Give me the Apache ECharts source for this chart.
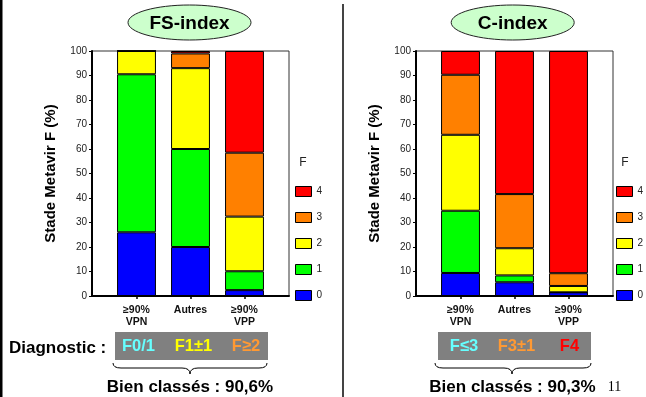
<!DOCTYPE html>
<html>
<head>
<meta charset="utf-8">
<script src="https://cdn.jsdelivr.net/npm/echarts@6/dist/echarts.min.js"></script>
<style>
html,body{margin:0;padding:0;background:#fff;}
#c{width:646px;height:397px;}
</style>
</head>
<body>
<div id="c"></div>
<script>
// ---- data ----
const categories = ['≥90%\nVPN', 'Autres', '≥90%\nVPP'];
const stages = ['0', '1', '2', '3', '4'];
const stageColors = ['#0000ff', '#00ff00', '#ffff00', '#ff8000', '#ff0000'];
const legendOrder = ['4', '3', '2', '1', '0'];

// FS-index (left panel) — % of patients by Metavir F stage
const fsF0 = [26, 20, 2.4];
const fsF1 = [64.5, 40, 7.7];
const fsF2 = [9.5, 33, 22.3];
const fsF3 = [0, 6, 26.1];
const fsF4 = [0, 1, 41.5];

// C-index (right panel)
const cF0 = [9.4, 5.6, 1.5];
const cF1 = [25.4, 2.8, 0];
const cF2 = [31, 11.1, 2.6];
const cF3 = [24.5, 22.1, 5.2];
const cF4 = [9.7, 58.4, 90.7];

const titles = ['FS-index', 'C-index'];
const yTitle = 'Stade Metavir F (%)';
const diagLeft = ['F0/1', 'F1±1', 'F≥2'];
const diagRight = ['F≤3', 'F3±1', 'F4'];
const accuracy = ['Bien classés : 90,6%', 'Bien classés : 90,3%'];

// ---- chart ----
const FONT = 'Liberation Sans, Arial, sans-serif';
const chart = echarts.init(document.getElementById('c'), null, {renderer: 'canvas'});

const TOP = 51, H = 245;
function frameGrid(left) {
  return {left: left, top: TOP, width: 197, height: H, show: true,
    borderColor: '#333', borderWidth: 1, backgroundColor: 'transparent'};
}
function barGrid(left) {
  return {left: left + 17.5, top: TOP, width: 162, height: H, show: false};
}
function frameX(g) {
  return {type: 'value', gridIndex: g, min: 0, max: 1,
    axisLine: {show: true, lineStyle: {color: '#000', width: 2}},
    axisTick: {show: false}, axisLabel: {show: false}, splitLine: {show: false}};
}
function frameY(g) {
  return {type: 'value', gridIndex: g, min: 0, max: 100, interval: 10,
    name: yTitle, nameLocation: 'middle', nameGap: 34,
    nameTextStyle: {fontFamily: FONT, fontSize: 15, fontWeight: 'bold', color: '#000'},
    axisLine: {show: true, lineStyle: {color: '#000', width: 2}},
    axisTick: {show: true, length: 3, lineStyle: {color: '#000'}},
    splitLine: {show: false},
    axisLabel: {fontFamily: FONT, fontSize: 10, color: '#222', margin: 5}};
}
function barX(g) {
  return {type: 'category', gridIndex: g, data: categories,
    axisLine: {show: false},
    axisTick: {show: true, alignWithLabel: true, length: 3, lineStyle: {color: '#000', width: 1.5}},
    axisLabel: {fontFamily: FONT, fontSize: 10.5, fontWeight: 'bold', color: '#111', margin: 8, lineHeight: 12}};
}
function barY(g) {
  return {type: 'value', gridIndex: g, min: 0, max: 100, show: false};
}

const fsData = [fsF0, fsF1, fsF2, fsF3, fsF4];
const cData = [cF0, cF1, cF2, cF3, cF4];
const series = [];
stages.forEach((s, k) => {
  series.push({name: s, type: 'bar', stack: 'L', xAxisIndex: 1, yAxisIndex: 1,
    data: fsData[k], barWidth: '72%',
    itemStyle: {color: stageColors[k], borderColor: '#000', borderWidth: 1}});
});
stages.forEach((s, k) => {
  series.push({name: s, type: 'bar', stack: 'R', xAxisIndex: 3, yAxisIndex: 3,
    data: cData[k], barWidth: '72%',
    itemStyle: {color: stageColors[k], borderColor: '#000', borderWidth: 1}});
});

function legend(left) {
  return {left: left, top: 186, orient: 'vertical', data: legendOrder, padding: 0,
    itemWidth: 16, itemHeight: 10, itemGap: 15, selectedMode: false, icon: 'rect',
    itemStyle: {borderColor: '#000', borderWidth: 1},
    textStyle: {fontFamily: FONT, fontSize: 10, color: '#222', lineHeight: 10}};
}

function txt(x, y, text, size, color, opts) {
  return {type: 'text', x: x, y: y, z: 10, style: Object.assign({text: text,
    fontFamily: FONT, fontSize: size, fontWeight: 'bold', fill: color,
    textAlign: 'center', textVerticalAlign: 'middle'}, opts || {})};
}
function brace(x1, xm, x2) {
  const yt = 363, ym = 368, yb = 374, r = 8;
  const ls = {stroke: '#000', lineWidth: 1, fill: null};
  return [
    {type: 'bezierCurve', shape: {x1: x1, y1: yt, x2: x1 + r, y2: ym, cpx1: x1, cpy1: ym}, style: ls},
    {type: 'line', shape: {x1: x1 + r, y1: ym, x2: xm - r, y2: ym}, style: ls},
    {type: 'bezierCurve', shape: {x1: xm - r, y1: ym, x2: xm, y2: yb, cpx1: xm, cpy1: ym}, style: ls},
    {type: 'bezierCurve', shape: {x1: xm, y1: yb, x2: xm + r, y2: ym, cpx1: xm, cpy1: ym}, style: ls},
    {type: 'line', shape: {x1: xm + r, y1: ym, x2: x2 - r, y2: ym}, style: ls},
    {type: 'bezierCurve', shape: {x1: x2 - r, y1: ym, x2: x2, y2: yt, cpx1: x2, cpy1: ym}, style: ls}
  ];
}

const graphic = [
  {type: 'rect', shape: {x: 0, y: 0, width: 2.5, height: 397}, style: {fill: '#000'}},
  {type: 'rect', shape: {x: 342, y: 4, width: 2, height: 393}, style: {fill: '#444'}},
  {type: 'ellipse', shape: {cx: 189.5, cy: 22.5, rx: 61.5, ry: 17.5}, style: {fill: '#ccffcc', stroke: '#222', lineWidth: 1}},
  {type: 'ellipse', shape: {cx: 512.7, cy: 22.5, rx: 61.5, ry: 17.5}, style: {fill: '#ccffcc', stroke: '#222', lineWidth: 1}},
  txt(189.5, 23.5, titles[0], 19, '#000'),
  txt(512.7, 23.5, titles[1], 19, '#000'),
  txt(303, 163, 'F', 12, '#222', {fontWeight: 'normal'}),
  txt(625, 163, 'F', 12, '#222', {fontWeight: 'normal'}),
  txt(9, 348, 'Diagnostic :', 17, '#000', {textAlign: 'left'}),
  {type: 'rect', shape: {x: 115, y: 332, width: 153, height: 28}, style: {fill: '#808080'}},
  {type: 'rect', shape: {x: 438, y: 332, width: 153, height: 28}, style: {fill: '#808080'}},
  txt(138.5, 346, diagLeft[0], 16.5, '#66ffff'),
  txt(193.5, 346, diagLeft[1], 16.5, '#ffff00'),
  txt(246, 346, diagLeft[2], 16.5, '#ff9933'),
  txt(464, 346, diagRight[0], 16.5, '#66ffff'),
  txt(516.5, 346, diagRight[1], 16.5, '#ff9933'),
  txt(569.5, 346, diagRight[2], 16.5, '#ff0000'),
  txt(190, 387, accuracy[0], 17, '#000'),
  txt(512.5, 387, accuracy[1], 17, '#000'),
  txt(614.5, 387, '11', 14, '#000', {fontWeight: 'normal', fontFamily: 'Liberation Serif, Times New Roman, serif'})
].concat(brace(113, 190, 267)).concat(brace(435, 512, 591));

chart.setOption({
  animation: false,
  backgroundColor: '#fff',
  grid: [frameGrid(92), barGrid(92), frameGrid(416), barGrid(416)],
  xAxis: [frameX(0), barX(1), frameX(2), barX(3)],
  yAxis: [frameY(0), barY(1), frameY(2), barY(3)],
  legend: [legend(295), legend(616)],
  series: series,
  graphic: graphic
});
</script>
</body>
</html>
